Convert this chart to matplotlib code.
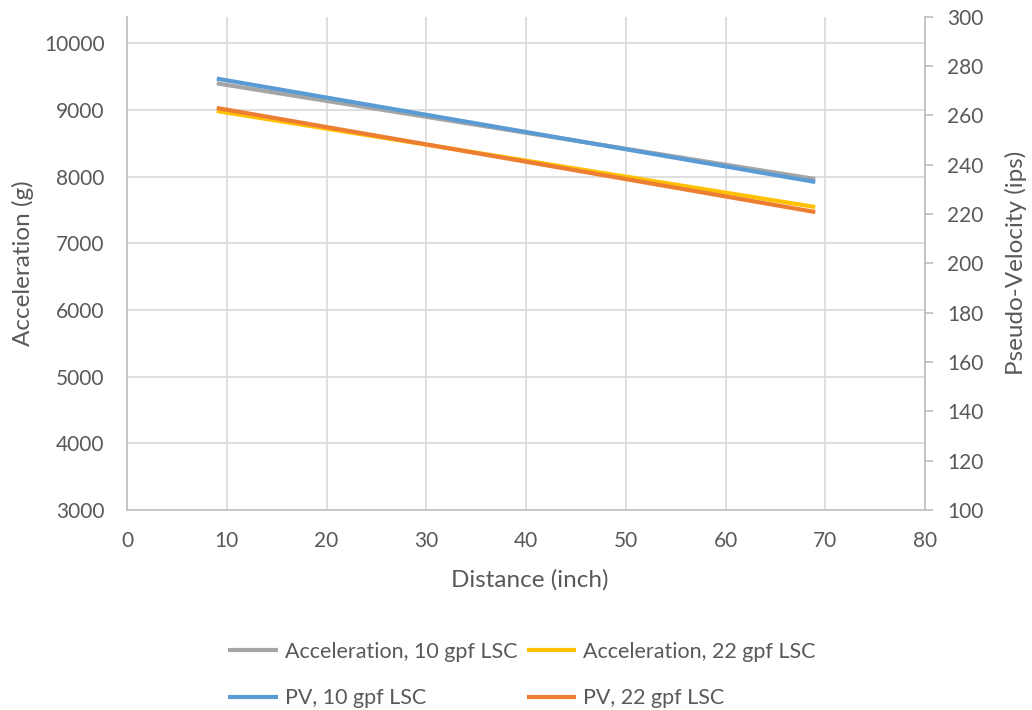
import matplotlib
matplotlib.use("Agg")
import matplotlib.pyplot as plt
from matplotlib.ticker import MultipleLocator

plt.rcParams['font.family'] = ['Lato', 'DejaVu Sans']

distance = [9, 69]
acc_10 = [9400, 7965]
acc_22 = [8985, 7545]
pv_10 = [274.9, 233.0]
pv_22 = [263.0, 220.8]

labels = ["Acceleration, 10 gpf LSC", "Acceleration, 22 gpf LSC",
          "PV, 10 gpf LSC", "PV, 22 gpf LSC"]
colors = ["#A5A5A5", "#FFC000", "#5B9BD5", "#ED7D31"]

txt = "#595959"
spine = "#BFBFBF"
grid = "#D9D9D9"

W, H = 1032, 710
fig = plt.figure(figsize=(W/100, H/100), dpi=100)
ax = fig.add_axes([127/W, 1-510/H, (925-127)/W, (510-16.7)/H])
ax2 = ax.twinx()

lw = 3
l1, = ax.plot(distance, acc_10, color=colors[0], lw=lw, label=labels[0], solid_capstyle='butt')
l2, = ax.plot(distance, acc_22, color=colors[1], lw=lw, label=labels[1], solid_capstyle='butt')
l3, = ax2.plot(distance, pv_10, color=colors[2], lw=lw, label=labels[2], solid_capstyle='butt')
l4, = ax2.plot(distance, pv_22, color=colors[3], lw=lw, label=labels[3], solid_capstyle='butt')

ax.set_xlim(0, 80)
ax.set_ylim(3000, 10400)
ax2.set_ylim(100, 300)
ax.xaxis.set_major_locator(MultipleLocator(10))
ax.set_yticks(range(3000, 10001, 1000))
ax2.yaxis.set_major_locator(MultipleLocator(20))

ax.grid(True, color=grid, lw=1.2)
ax.set_axisbelow(True)

for a in (ax, ax2):
    for s in a.spines.values():
        s.set_visible(False)
for a, side in ((ax, 'left'), (ax, 'bottom'), (ax2, 'right')):
    a.spines[side].set_visible(True)
    a.spines[side].set_color(spine)
    a.spines[side].set_linewidth(1.2)

fs = 15
ax.tick_params(axis='x', length=0, labelsize=fs, labelcolor=txt, pad=15)
ax.tick_params(axis='y', length=0, labelsize=fs, labelcolor=txt, pad=16)
ax2.tick_params(axis='y', length=6, width=1.2, color=spine, labelsize=fs,
                labelcolor=txt, pad=10)

tfs = 17.5
fig.text(530/W, 1-580/H, "Distance (inch)", fontsize=tfs, color=txt,
         ha='center', va='center')
fig.text(23/W, 1-263/H, "Acceleration (g)", fontsize=tfs, color=txt,
         ha='center', va='center', rotation=90)
fig.text(1016/W, 1-263/H, "Pseudo-Velocity (ips)", fontsize=tfs, color=txt,
         ha='center', va='center', rotation=90)

handles = [l1, l3, l2, l4]
leg = fig.legend(handles, [h.get_label() for h in handles], ncol=2,
                 loc='center', bbox_to_anchor=(522/W, 1-675/H),
                 frameon=False, fontsize=15.5, labelcolor=txt,
                 handlelength=2.3, handletextpad=0.33, columnspacing=0.45,
                 labelspacing=1.25, borderpad=0)

fig.savefig("out.png", dpi=100)
